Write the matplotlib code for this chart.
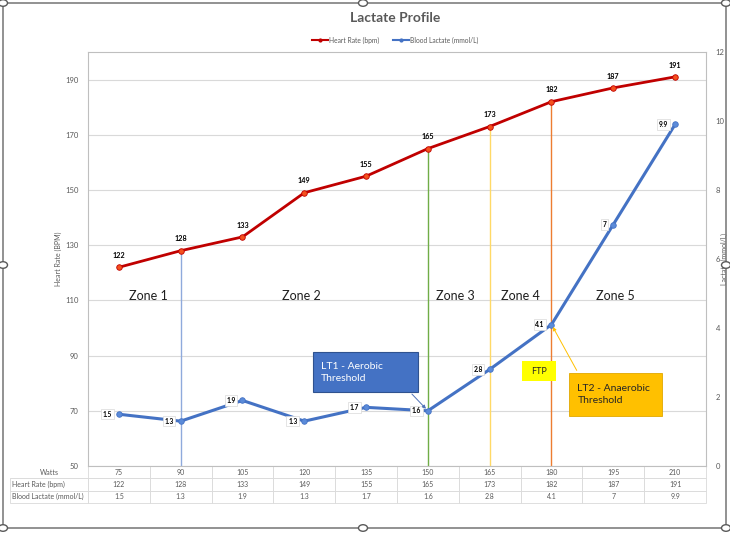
import matplotlib
matplotlib.use("Agg")
import matplotlib.pyplot as plt
from matplotlib.patches import Rectangle, Circle
from matplotlib.lines import Line2D

plt.rcParams['font.family'] = ['Lato', 'DejaVu Sans']

# datos
watts = [75, 90, 105, 120, 135, 150, 165, 180, 195, 210]
heart_rate = [122, 128, 133, 149, 155, 165, 173, 182, 187, 191]
lactate = [1.5, 1.3, 1.9, 1.3, 1.7, 1.6, 2.8, 4.1, 7, 9.9]
lactate_txt = ['1.5', '1.3', '1.9', '1.3', '1.7', '1.6', '2.8', '4.1', '7', '9.9']

# lineas verticales (indice de watts, color)
umbral_idx = [1, 5, 6, 7]
umbral_col = ['#8FAADC', '#70AD47', '#FFD966', '#ED7D31']

zonas = ['Zone 1', 'Zone 2', 'Zone 3', 'Zone 4', 'Zone 5']
zonas_x = [0.47, 2.96, 5.44, 6.49, 8.04]

gris = '#595959'
rojo = '#C00000'
azul = '#4472C4'

fig = plt.figure(figsize=(7.3, 5.33), dpi=100)
W, H = 730, 533

def px(x0, y0, x1, y1):
    return [x0 / W, 1 - y1 / H, (x1 - x0) / W, (y1 - y0) / H]

ax = fig.add_axes(px(88, 52, 706, 466))
ax2 = ax.twinx()
x = list(range(len(watts)))

# eje izquierdo
ax.set_xlim(-0.5, len(watts) - 0.5)
ax.set_ylim(50, 200)
ax.set_yticks(range(50, 200, 20))
ax.grid(axis='y', color='#D9D9D9', lw=0.8)
ax.set_axisbelow(True)
ax.tick_params(axis='y', length=0, labelsize=5.5, labelcolor=gris, pad=7)
ax.set_xticks([])
ax.set_ylabel('Heart Rate (BPM)', fontsize=5, color=gris)
ax.yaxis.set_label_coords(-0.042, 0.5)
for s in ['top', 'right', 'left', 'bottom']:
    ax.spines[s].set_color('#BFBFBF')
    ax.spines[s].set_linewidth(0.8)

ax2.set_ylim(0, 12)
ax2.set_yticks(range(0, 13, 2))
ax2.tick_params(axis='y', length=0, labelsize=5.5, labelcolor=gris, pad=7)
ax2.set_ylabel('Lactate (mmol/L)', fontsize=5, color=gris, rotation=90)
ax2.yaxis.set_label_coords(1.0235, 0.5)
for s in ['top', 'right', 'left', 'bottom']:
    ax2.spines[s].set_visible(False)

# lineas de umbral
for i, c in zip(umbral_idx, umbral_col):
    ax.vlines(i, 50, heart_rate[i], color=c, lw=1, zorder=1)

# frecuencia cardiaca
ax.plot(x, heart_rate, color=rojo, lw=2, marker='o', ms=4,
        mfc='#F4511E', mec=rojo, mew=0.6, zorder=3)
for i, v in zip(x, heart_rate):
    ax.annotate(str(v), (i, v), xytext=(0, 6), textcoords='offset points',
                ha='center', va='bottom', fontsize=5.2, fontweight='bold', color='black')

# zonas
for z, zx in zip(zonas, zonas_x):
    ax.text(zx, 111.7, z, ha='center', va='center', fontsize=9, color='#1F1F1F')

# lactato
ax2.plot(x, lactate, color=azul, lw=2.2, marker='o', ms=4,
         mfc='#5B8BD9', mec=azul, mew=0.6, zorder=3)
for i, v, t in zip(x, lactate, lactate_txt):
    ax2.annotate(t, (i, v), xytext=(-5, 0), textcoords='offset points',
                 ha='right', va='center', fontsize=4.8, fontweight='bold', color='black',
                 bbox=dict(boxstyle='square,pad=0.25', fc='white', ec='#D9D9D9', lw=0.5))

# cuadros de texto
ax2.add_patch(Rectangle((3.14, 2.145), 1.70, 1.155, fc=azul, ec='#2F528F', lw=0.8, zorder=4))
ax2.text(3.27, 2.72, 'LT1 - Aerobic\nThreshold', color='white', fontsize=7.5,
         ha='left', va='center', linespacing=1.4, zorder=5)
ax2.annotate('', xy=(5, 1.6), xytext=(4.71, 2.145),
             arrowprops=dict(arrowstyle='-|>', color='#4F72B8', lw=0.7, mutation_scale=5), zorder=4)

ax2.add_patch(Rectangle((6.52, 2.46), 0.55, 0.58, fc='#FFFF00', ec='none', zorder=4))
ax2.text(6.795, 2.75, 'FTP', color='#262626', fontsize=6.5, ha='center', va='center', zorder=5)

ax2.add_patch(Rectangle((7.28, 1.45), 1.51, 1.25, fc='#FFC000', ec='#E0A800', lw=0.6, zorder=4))
ax2.text(7.42, 2.07, 'LT2 - Anaerobic\nThreshold', color='#262626', fontsize=7.5,
         ha='left', va='center', linespacing=1.4, zorder=5)
ax2.annotate('', xy=(7, 4.1), xytext=(7.43, 2.70),
             arrowprops=dict(arrowstyle='-|>', color='#FFC000', lw=0.7, mutation_scale=5), zorder=4)

# tabla de datos
filas = [['Watts'] + [str(w) for w in watts],
         ['Heart Rate (bpm)'] + [str(h) for h in heart_rate],
         ['Blood Lactate (mmol/L)'] + lactate_txt]
ancho_lbl = 78 / 618
tabla = ax.table(cellText=filas, colWidths=[ancho_lbl] + [1 / 10] * 10,
                 bbox=[-ancho_lbl, -37 / 414, 1 + ancho_lbl, 37 / 414], cellLoc='center')
tabla.auto_set_font_size(False)
for (r, c), cell in tabla.get_celld().items():
    cell.set_fontsize(5)
    cell.set_edgecolor('#D9D9D9')
    cell.set_linewidth(0.6)
    cell.get_text().set_color(gris)
    if c == 0 and r > 0:
        cell.get_text().set_ha('left')
        cell.PAD = 0.02
    if r == 0 and c == 0:
        cell.visible_edges = 'B'

# titulo y leyenda
fig.text(395 / W, 1 - 18 / H, 'Lactate Profile', ha='center', va='center',
         fontsize=10, fontweight='bold', color=gris)
handles = [Line2D([], [], color=rojo, lw=1.5, marker='o', ms=2),
           Line2D([], [], color=azul, lw=1.5, marker='o', ms=2)]
fig.legend(handles, ['Heart Rate (bpm)', 'Blood Lactate (mmol/L)'], ncol=2,
           loc='center', bbox_to_anchor=(395 / W, 1 - 40 / H), frameon=False,
           fontsize=4.8, handlelength=2.5, handletextpad=0.1, columnspacing=2,
           labelcolor=gris)

# marco de seleccion
fig.patches.append(Rectangle((3 / W, 1 - 528 / H), 723 / W, 525 / H, transform=fig.transFigure,
                             fill=False, ec='#7F7F7F', lw=1.2))
for hx, hy in [(3, 3), (363, 3), (726, 3), (3, 265), (726, 265), (3, 528), (363, 528), (726, 528)]:
    fig.patches.append(Circle((hx / W, 1 - hy / H), 4.5 / W, transform=fig.transFigure,
                              fc='white', ec='#595959', lw=1))

fig.savefig('out.png', dpi=100)
